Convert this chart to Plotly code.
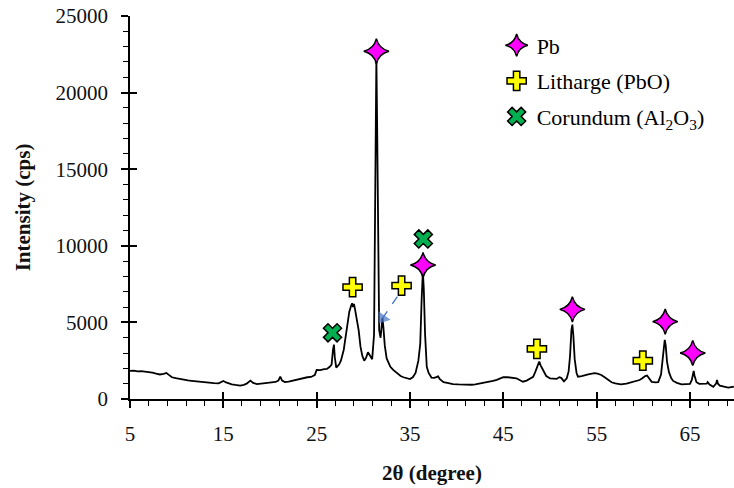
import plotly.graph_objects as go

# XRD pattern: 2-theta (degree) and intensity (cps)
two_theta = [
    5.0, 5.4, 5.8, 6.2, 6.6, 7.0, 7.4, 7.8, 8.2, 8.6, 8.9, 9.2, 9.5, 9.9, 10.4,
    10.8, 11.2, 11.6, 12.0, 12.5, 13.0, 13.5, 14.0, 14.5, 14.8, 15.0, 15.3, 15.6,
    15.9, 16.3, 16.8, 17.2, 17.5, 17.9, 18.2, 18.6, 19.0, 19.4, 19.8, 20.2, 20.6,
    20.9, 21.1, 21.3, 21.6, 22.0, 22.4, 22.7, 23.0, 23.3, 23.6, 24.0, 24.4, 24.8,
    25.0, 25.4, 25.8, 26.1, 26.4, 26.6, 26.75, 26.85, 26.95, 27.1, 27.4, 27.6,
    27.9, 28.2, 28.5, 28.7, 28.8, 28.9, 29.0, 29.1, 29.3, 29.5, 29.7, 29.9, 30.1,
    30.3, 30.5, 30.7, 30.95, 31.15, 31.25, 31.33, 31.4, 31.48, 31.58, 31.7, 31.85,
    31.95, 32.05, 32.15, 32.3, 32.5, 32.7, 32.9, 33.2, 33.6, 34.0, 34.3, 34.7,
    35.0, 35.3, 35.6, 35.9, 36.1, 36.25, 36.38, 36.48, 36.62, 36.8, 37.0, 37.3,
    37.6, 37.9, 38.0, 38.2, 38.6, 39.0, 39.6, 40.2, 40.6, 41.1, 41.6, 42.0, 42.5,
    43.0, 43.5, 43.9, 44.3, 44.7, 45.0, 45.4, 45.7, 46.0, 46.4, 46.8, 47.1, 47.5,
    47.9, 48.2, 48.45, 48.65, 48.85, 49.0, 49.3, 49.6, 50.0, 50.4, 50.7, 51.0,
    51.2, 51.5, 51.8, 52.0, 52.15, 52.3, 52.4, 52.5, 52.65, 52.85, 53.0, 53.4,
    53.7, 54.1, 54.5, 54.8, 55.1, 55.5, 55.9, 56.3, 56.6, 57.0, 57.6, 58.2, 58.7,
    59.2, 59.6, 59.9, 60.2, 60.4, 60.6, 60.9, 61.3, 61.6, 61.9, 62.05, 62.2, 62.3,
    62.4, 62.55, 62.75, 63.0, 63.2, 63.6, 64.1, 64.6, 65.0, 65.2, 65.3, 65.4,
    65.5, 65.7, 66.0, 66.4, 66.8, 66.9, 67.1, 67.5, 67.8, 67.9, 68.0, 68.2, 68.6,
    69.1, 69.4, 69.7,
]
intensity = [
    1830, 1850, 1800, 1820, 1790, 1760, 1720, 1650, 1600, 1640, 1700, 1560, 1420,
    1360, 1290, 1260, 1210, 1180, 1150, 1120, 1090, 1060, 1030, 1020, 1100, 1180,
    1080, 1000, 960, 920, 880, 920, 1000, 1200, 1050, 970, 990, 1010, 1040, 1060,
    1110, 1200, 1460, 1200, 1100, 1140, 1200, 1240, 1280, 1340, 1380, 1420, 1440,
    1560, 1900, 1880, 1950, 1960, 2100, 2250, 3200, 3550, 2700, 2050, 2250, 2500,
    3200, 4500, 5700, 6100, 6250, 6000, 6200, 5900, 5300, 4500, 3400, 2800, 2500,
    2700, 3050, 2800, 2600, 4200, 12000, 19500, 22300, 18000, 9000, 4500, 4000,
    4700, 5300, 4700, 3500, 2650, 2400, 2100, 1900, 1700, 1500, 1420, 1330, 1300,
    1420, 1700, 2500, 3600, 6500, 8300, 7200, 4200, 2100, 1700, 1400, 1380, 1440,
    1480, 1300, 1100, 1050, 970, 950, 930, 910, 930, 960, 1010, 1050, 1120, 1180,
    1250, 1350, 1420, 1430, 1400, 1420, 1350, 1220, 1130, 1200, 1330, 1450, 1800,
    2200, 2450, 2200, 1800, 1500, 1350, 1320, 1310, 1420, 1380, 1150, 1350, 1800,
    2800, 4500, 4850, 4200, 2600, 1700, 1460, 1500, 1530, 1600, 1660, 1690, 1650,
    1570, 1400, 1200, 1090, 1020, 960, 1010, 1080, 1150, 1240, 1350, 1500, 1530,
    1350, 1120, 1080, 1100, 1600, 2300, 3300, 3860, 3500, 2400, 1750, 1350, 1180,
    1050, 960, 970, 980, 1250, 1700, 1830, 1500, 1100, 990, 980, 1000, 1100, 950,
    800, 1000, 1240, 1000, 870, 830, 740, 780, 800,
]

# Phase markers
pb_x = [31.4, 36.4, 52.4, 62.35, 65.3]
pb_y = [22700, 8750, 5850, 5050, 3000]
litharge_x = [28.85, 34.1, 48.6, 59.95]
litharge_y = [7300, 7400, 3270, 2500]
corundum_x = [26.7, 36.43]
corundum_y = [4320, 10450]

# Arrow pointing from a litharge marker to the shoulder peak
arrow_x = [33.65, 32.07]
arrow_y = [6690, 5280]

FONT = "'Liberation Serif', 'Times New Roman', serif"

fig = go.Figure()

fig.add_trace(go.Scatter(
    x=two_theta, y=intensity, mode="lines",
    line=dict(color="black", width=1.8),
    showlegend=False, hoverinfo="skip",
))

fig.add_trace(go.Scatter(
    x=arrow_x, y=arrow_y, mode="lines+markers",
    line=dict(color="#4472C4", width=1.3, dash="dash"),
    marker=dict(symbol="triangle-up", size=[0, 13], color="#4472C4",
                angleref="previous", line=dict(width=0)),
    showlegend=False, hoverinfo="skip",
))

fig.add_trace(go.Scatter(
    x=pb_x, y=pb_y, mode="markers", name="Pb", legendgroup="pb",
    marker=dict(symbol="star-diamond", size=18, color="#FF00FF",
                line=dict(color="black", width=1.5)),
))
fig.add_trace(go.Scatter(
    x=litharge_x, y=litharge_y, mode="markers", name="Litharge (PbO)",
    legendgroup="pbo",
    marker=dict(symbol="cross", size=16, color="#FFFF00",
                line=dict(color="black", width=1.5)),
))
fig.add_trace(go.Scatter(
    x=corundum_x, y=corundum_y, mode="markers",
    name="Corundum (Al<sub>2</sub>O<sub>3</sub>)", legendgroup="al2o3",
    marker=dict(symbol="x", size=16, color="#00B050",
                line=dict(color="black", width=1.5)),
))

# Invisible trace carrying the overlay axes (inner half of the crossing major ticks)
fig.add_trace(go.Scatter(
    x=[5], y=[0], xaxis="x2", yaxis="y2", mode="markers",
    marker=dict(size=0, opacity=0), showlegend=False, hoverinfo="skip",
))

x_range = [5, 69.72]
y_range = [0, 25000]

fig.update_layout(
    width=734, height=488,
    margin=dict(l=130, r=0, t=16, b=89),
    paper_bgcolor="white", plot_bgcolor="white",
    font=dict(family=FONT, size=21, color="black"),
    showlegend=True,
    legend=dict(
        x=0.607, y=0.978, xanchor="left", yanchor="top",
        font=dict(family=FONT, size=22, color="black"),
        bgcolor="rgba(0,0,0,0)", tracegroupgap=4,
    ),
    xaxis=dict(
        range=x_range, showgrid=False, zeroline=False,
        showline=True, linecolor="black", linewidth=1.5,
        tick0=5, dtick=10, ticks="outside", ticklen=7, tickwidth=1.5,
        tickcolor="black", ticklabelstandoff=8,
        tickfont=dict(family=FONT, size=21, color="#111"),
        minor=dict(tick0=5, dtick=2, ticks="outside", ticklen=5,
                   tickwidth=1.2, tickcolor="black"),
        title=dict(text="<b>2θ (degree)</b>", standoff=20,
                   font=dict(family=FONT, size=21, color="#111")),
    ),
    yaxis=dict(
        range=y_range, showgrid=False, zeroline=False,
        showline=True, linecolor="black", linewidth=1.5,
        tick0=0, dtick=5000, tickformat="d", ticks="outside", ticklen=7,
        tickwidth=1.5, tickcolor="black", ticklabelstandoff=9,
        tickfont=dict(family=FONT, size=21, color="#111"),
        minor=dict(tick0=0, dtick=1000, ticks="outside", ticklen=5,
                   tickwidth=1.2, tickcolor="black"),
        title=dict(text="<b>Intensity (cps)</b>", standoff=19,
                   font=dict(family=FONT, size=21, color="#111")),
    ),
    xaxis2=dict(
        overlaying="x", anchor="y2", side="bottom", range=x_range,
        showgrid=False, zeroline=False, showline=False, showticklabels=False,
        tick0=5, dtick=10, ticks="inside", ticklen=7, tickwidth=1.5,
        tickcolor="black",
    ),
    yaxis2=dict(
        overlaying="y", anchor="x2", side="left", range=y_range,
        showgrid=False, zeroline=False, showline=False, showticklabels=False,
        tick0=0, dtick=5000, ticks="inside", ticklen=7, tickwidth=1.5,
        tickcolor="black",
    ),
)

fig.write_html("out.html")
